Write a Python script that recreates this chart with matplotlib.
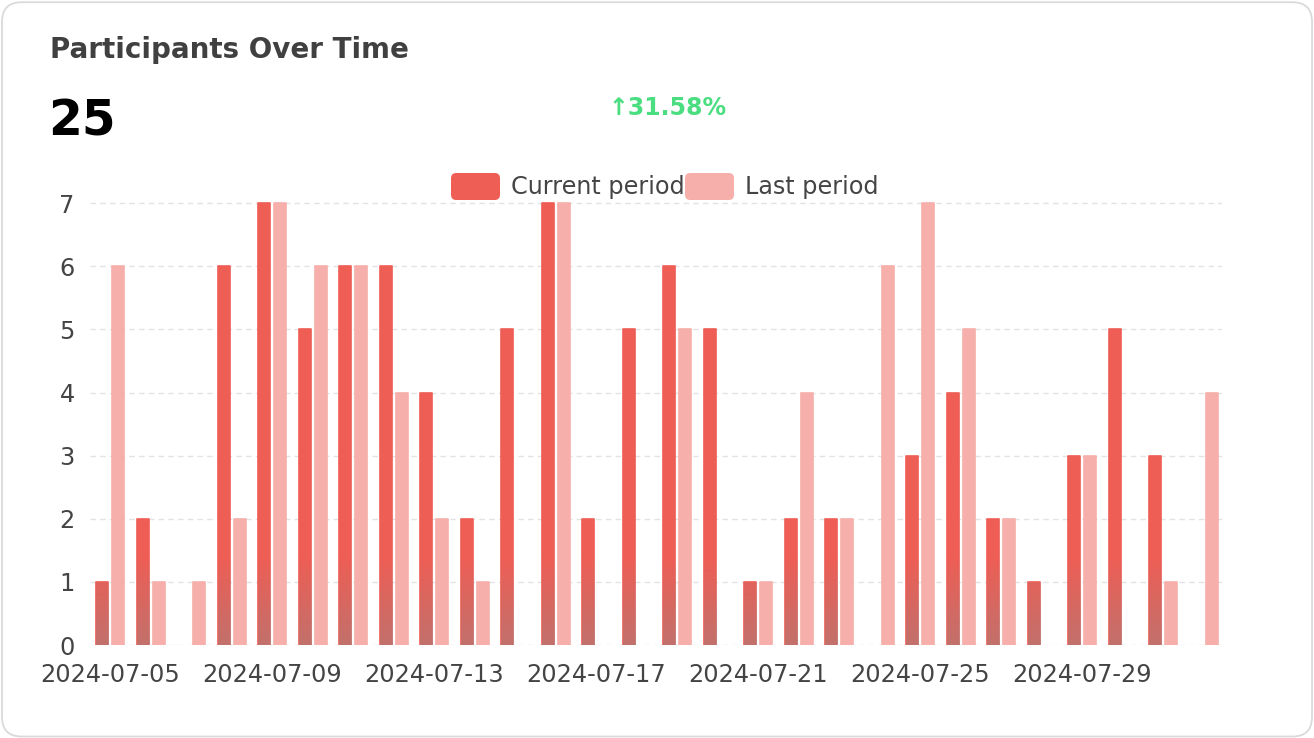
import numpy as np
import matplotlib
matplotlib.use("Agg")
import matplotlib.pyplot as plt
from matplotlib.patches import FancyBboxPatch

dates = ["2024-07-05", "2024-07-06", "2024-07-07", "2024-07-08", "2024-07-09", "2024-07-10", "2024-07-11",
         "2024-07-12", "2024-07-13", "2024-07-14", "2024-07-15", "2024-07-16", "2024-07-17", "2024-07-18",
         "2024-07-19", "2024-07-20", "2024-07-21", "2024-07-22", "2024-07-23", "2024-07-24", "2024-07-25",
         "2024-07-26", "2024-07-27", "2024-07-28", "2024-07-29", "2024-07-30", "2024-07-31", "2024-08-01"]
current = [1, 2, 0, 6, 7, 5, 6, 6, 4, 2, 5, 7, 2, 5, 6, 5, 1, 2, 2, 0, 3, 4, 2, 1, 3, 5, 3, 0]
last = [6, 1, 1, 2, 7, 6, 6, 4, 2, 1, 0, 7, 0, 0, 5, 0, 1, 4, 2, 6, 7, 5, 2, 0, 3, 0, 1, 4]

title = "Participants Over Time"
total = "25"
change = "\u219131.58%"

c_cur = "#EE5E55"
c_last = "#F6AFAA"
c_text = "#444444"

fig = plt.figure(figsize=(13.14, 7.38), dpi=100)
fig.patch.set_facecolor("white")

# card
card = FancyBboxPatch((0.0015, 0.002), 0.997, 0.995, boxstyle="round,pad=0,rounding_size=0.015",
                      mutation_aspect=1314 / 738, transform=fig.transFigure,
                      facecolor="white", edgecolor="#DADADA", linewidth=1.3, zorder=-10)
fig.patches.append(card)

ax = fig.add_axes([0.0685, 0.126, 0.8615, 0.603])
ax.set_facecolor("none")
x = np.arange(len(dates))
w = 0.3
off = 0.2

bars_cur = ax.bar(x - off, current, w, color=c_cur, edgecolor=c_cur, linewidth=1.2,
                  joinstyle="round", zorder=3)
bars_last = ax.bar(x + off, last, w, color=c_last, edgecolor=c_last, linewidth=1.2,
                   joinstyle="round", zorder=3)
for b in list(bars_cur) + list(bars_last):
    if b.get_height() == 0:
        b.set_visible(False)

# darker gradient at the bottom of current bars
grad = np.zeros((100, 1, 4))
grad[..., :3] = np.array([140, 135, 135]) / 255
grad[:, 0, 3] = np.linspace(0.0, 0.45, 100)
for b in bars_cur:
    h = b.get_height()
    if h <= 0:
        continue
    top = min(h, 1.4)
    frac = top / 1.4
    g = grad[int(100 * (1 - frac)):] if frac < 1 else grad
    im = ax.imshow(g, extent=[b.get_x(), b.get_x() + b.get_width(), 0, top],
                   aspect="auto", zorder=3.5, interpolation="bilinear")
    im.set_clip_path(b)

ax.set_xlim(-0.5, 27.45)
ax.set_ylim(0, 7.05)
ax.set_yticks(range(0, 8))
ax.set_xticks(x[::4])
ax.set_xticklabels(dates[::4])
ax.grid(axis="y", color="#E3E3E3", linestyle=(0, (4, 3)), linewidth=1, zorder=0)
for s in ax.spines.values():
    s.set_visible(False)
ax.tick_params(axis="both", length=0, labelsize=17.3, labelcolor=c_text)
ax.tick_params(axis="y", pad=11)
ax.tick_params(axis="x", pad=13)

fig.text(50 / 1314, 1 - 50 / 738, title, fontsize=20, fontweight="bold", color="#404040", va="center")
fig.text(48 / 1314, 1 - 121 / 738, total, fontsize=35, fontweight="bold", color="black", va="center")
fig.text(668 / 1314, 1 - 108 / 738, change, fontsize=17, fontweight="bold", color="#4ADE80",
         va="center", ha="center")

# legend
for px, col, label in [(451, c_cur, "Current period"), (685, c_last, "Last period")]:
    fig.patches.append(FancyBboxPatch((px / 1314, 1 - 200 / 738), 49 / 1314, 27 / 738,
                                      boxstyle="round,pad=0,rounding_size=0.004",
                                      mutation_aspect=1314 / 738, transform=fig.transFigure,
                                      facecolor=col, edgecolor="none", zorder=5))
    fig.text((px + 60) / 1314, 1 - 187 / 738, label, fontsize=17.2, color=c_text, va="center", zorder=6)

fig.savefig("out.png", dpi=100, facecolor="white")
